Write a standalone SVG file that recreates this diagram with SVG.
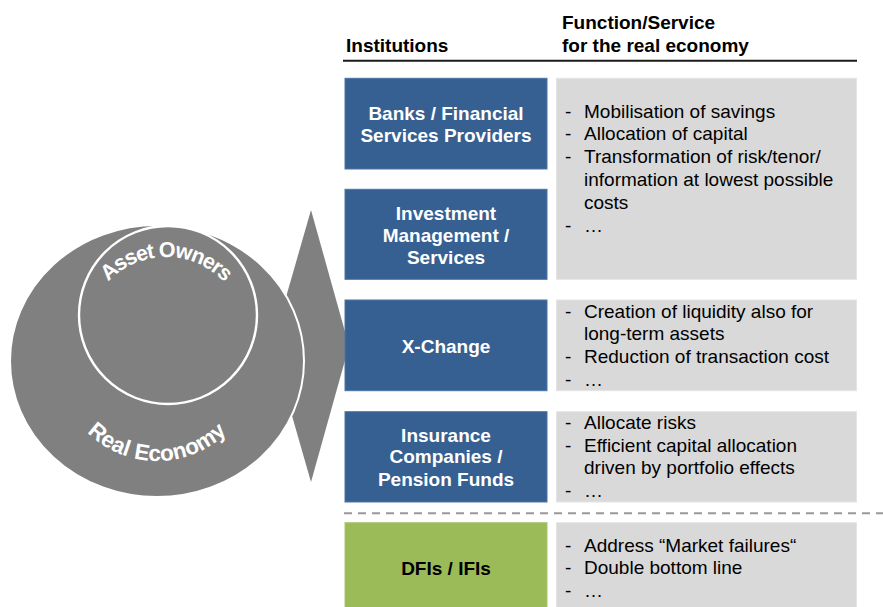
<svg xmlns="http://www.w3.org/2000/svg" width="883" height="607" viewBox="0 0 883 607">
<style>
.hdr{font-family:"Liberation Sans",Arial,sans-serif;font-size:19px;font-weight:bold;fill:#000}
.inst{fill:#366092;stroke:#4a74a6;stroke-width:1}
.dfi{fill:#9BBB59;stroke:#a9c56f;stroke-width:1}
.func{fill:#D9D9D9;stroke:#e4e4e4;stroke-width:1}
.lbl{font-family:"Liberation Sans",Arial,sans-serif;font-size:19px;font-weight:bold;fill:#fff;text-anchor:middle}
.lbld{font-family:"Liberation Sans",Arial,sans-serif;font-size:19px;font-weight:bold;fill:#000;text-anchor:middle}
.txt{font-family:"Liberation Sans",Arial,sans-serif;font-size:19px;fill:#000}
.arc{font-family:"Liberation Sans",Arial,sans-serif;font-size:22.5px;font-weight:bold;fill:#fff}
.arc2{font-family:"Liberation Sans",Arial,sans-serif;font-size:21.5px;font-weight:bold;fill:#fff;letter-spacing:-1.2px}
</style>
<defs>
<path id="arcTop" d="M 86 337 A 80 80 0 0 1 246 337"/>
<path id="arcBot" d="M 57 361 A 100 100 0 0 0 257 361"/>
</defs>

<g id="header">
<text class="hdr" x="346" y="51.7">Institutions</text>
<text class="hdr" x="562" y="29.3">Function/Service</text>
<text class="hdr" x="562" y="51.7">for the real economy</text>
<line x1="343" y1="60.7" x2="857" y2="60.7" stroke="#1a1a1a" stroke-width="2"/>
</g>

<g id="connectors">
<polygon points="311,210 349,346 311,482 272,346" fill="#808080"/>
</g>

<g id="real-economy">
<ellipse cx="157" cy="361" rx="147" ry="136" fill="#808080" stroke="#fff" stroke-width="2"/>
<text class="arc"><textPath href="#arcBot" startOffset="50%" text-anchor="middle">Real Economy</textPath></text>
</g>

<g id="asset-owners">
<circle cx="168" cy="315" r="89" fill="none" stroke="#fff" stroke-width="2.4"/>
<text class="arc2"><textPath href="#arcTop" startOffset="50%" text-anchor="middle">Asset Owners</textPath></text>
</g>

<g id="banks">
<rect class="inst" x="345" y="78.3" width="202" height="90.7"/>
<text class="lbl" x="446" y="120">Banks / Financial</text>
<text class="lbl" x="446" y="141.7">Services Providers</text>
</g>

<g id="investment">
<rect class="inst" x="345" y="189.3" width="202" height="90"/>
<text class="lbl" x="446" y="220">Investment</text>
<text class="lbl" x="446" y="241.7">Management /</text>
<text class="lbl" x="446" y="264.3">Services</text>
</g>

<g id="func-banks-investment">
<rect class="func" x="556.5" y="78.3" width="300" height="201"/>
<text class="txt" x="565" y="118.3">-</text><text class="txt" x="584" y="118.3">Mobilisation of savings</text>
<text class="txt" x="565" y="140">-</text><text class="txt" x="584" y="140">Allocation of capital</text>
<text class="txt" x="565" y="163.3">-</text><text class="txt" x="584" y="163.3">Transformation of risk/tenor/</text>
<text class="txt" x="584" y="186">information at lowest possible</text>
<text class="txt" x="584" y="209">costs</text>
<text class="txt" x="565" y="231.7">-</text><text class="txt" x="584" y="231.7">…</text>
</g>

<g id="xchange">
<rect class="inst" x="345" y="300" width="202" height="90.7"/>
<text class="lbl" x="446" y="353.3">X-Change</text>
</g>

<g id="func-xchange">
<rect class="func" x="556.5" y="300" width="300" height="90.7"/>
<text class="txt" x="565" y="318.3">-</text><text class="txt" x="584" y="318.3">Creation of liquidity also for</text>
<text class="txt" x="584" y="340">long-term assets</text>
<text class="txt" x="565" y="363.3">-</text><text class="txt" x="584" y="363.3">Reduction of transaction cost</text>
<text class="txt" x="565" y="386">-</text><text class="txt" x="584" y="386">…</text>
</g>

<g id="insurance">
<rect class="inst" x="345" y="411.7" width="202" height="90.3"/>
<text class="lbl" x="446" y="441.7">Insurance</text>
<text class="lbl" x="446" y="463.3">Companies /</text>
<text class="lbl" x="446" y="486">Pension Funds</text>
</g>

<g id="func-insurance">
<rect class="func" x="556.5" y="411.7" width="300" height="90.3"/>
<text class="txt" x="565" y="429.3">-</text><text class="txt" x="584" y="429.3">Allocate risks</text>
<text class="txt" x="565" y="451.7">-</text><text class="txt" x="584" y="451.7">Efficient capital allocation</text>
<text class="txt" x="584" y="474">driven by portfolio effects</text>
<text class="txt" x="565" y="497.3">-</text><text class="txt" x="584" y="497.3">…</text>
</g>

<g id="divider">
<line x1="344" y1="513.3" x2="883" y2="513.3" stroke="#999" stroke-width="2" stroke-dasharray="8 6"/>
</g>

<g id="dfi">
<rect class="dfi" x="345" y="522.7" width="202" height="90"/>
<text class="lbld" x="446" y="575">DFIs / IFIs</text>
</g>

<g id="func-dfi">
<rect class="func" x="556.5" y="522.7" width="300" height="90"/>
<text class="txt" x="565" y="552.3">-</text><text class="txt" x="584" y="552.3">Address “Market failures“</text>
<text class="txt" x="565" y="574">-</text><text class="txt" x="584" y="574">Double bottom line</text>
<text class="txt" x="565" y="596.7">-</text><text class="txt" x="584" y="596.7">…</text>
</g>
</svg>
